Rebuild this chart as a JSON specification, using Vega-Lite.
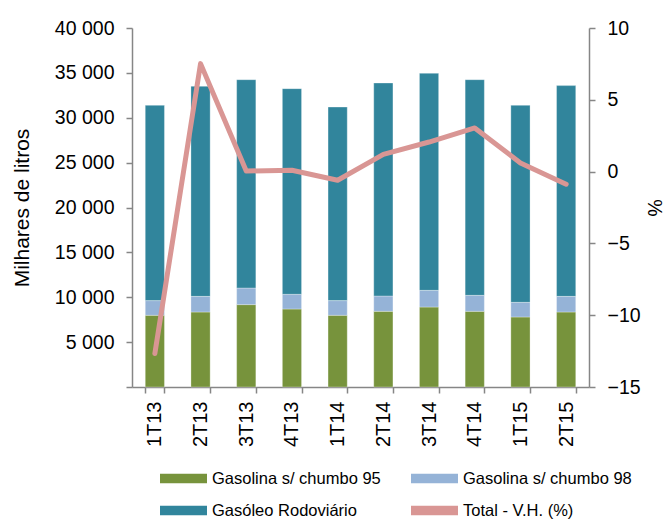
{
  "$schema": "https://vega.github.io/schema/vega-lite/v6.json",
  "width": 457,
  "height": 359,
  "autosize": {"type": "none"},
  "padding": {"left": 132, "top": 28, "right": 76, "bottom": 132},
  "background": "white",
  "config": {
    "view": {"stroke": null},
    "font": "Liberation Sans",
    "axis": {
      "domainColor": "#868686",
      "tickColor": "#868686",
      "labelColor": "#000000",
      "titleColor": "#000000",
      "labelFont": "Liberation Sans",
      "titleFont": "Liberation Sans",
      "titleFontWeight": "normal",
      "grid": false,
      "tickSize": 6,
      "domainWidth": 1.5,
      "tickWidth": 1.5
    }
  },
  "datasets": {
    "bars": [
      {"q": "1T13", "tipo": "Gasolina s/ chumbo 95", "ord": 1, "valor": 7990},
      {"q": "1T13", "tipo": "Gasolina s/ chumbo 98", "ord": 2, "valor": 1635},
      {"q": "1T13", "tipo": "Gasóleo  Rodoviário", "ord": 3, "valor": 21755},
      {"q": "2T13", "tipo": "Gasolina s/ chumbo 95", "ord": 1, "valor": 8355},
      {"q": "2T13", "tipo": "Gasolina s/ chumbo 98", "ord": 2, "valor": 1745},
      {"q": "2T13", "tipo": "Gasóleo  Rodoviário", "ord": 3, "valor": 23400},
      {"q": "3T13", "tipo": "Gasolina s/ chumbo 95", "ord": 1, "valor": 9180},
      {"q": "3T13", "tipo": "Gasolina s/ chumbo 98", "ord": 2, "valor": 1850},
      {"q": "3T13", "tipo": "Gasóleo  Rodoviário", "ord": 3, "valor": 23210},
      {"q": "4T13", "tipo": "Gasolina s/ chumbo 95", "ord": 1, "valor": 8690},
      {"q": "4T13", "tipo": "Gasolina s/ chumbo 98", "ord": 2, "valor": 1640},
      {"q": "4T13", "tipo": "Gasóleo  Rodoviário", "ord": 3, "valor": 22910},
      {"q": "1T14", "tipo": "Gasolina s/ chumbo 95", "ord": 1, "valor": 7990},
      {"q": "1T14", "tipo": "Gasolina s/ chumbo 98", "ord": 2, "valor": 1635},
      {"q": "1T14", "tipo": "Gasóleo  Rodoviário", "ord": 3, "valor": 21565},
      {"q": "2T14", "tipo": "Gasolina s/ chumbo 95", "ord": 1, "valor": 8430},
      {"q": "2T14", "tipo": "Gasolina s/ chumbo 98", "ord": 2, "valor": 1710},
      {"q": "2T14", "tipo": "Gasóleo  Rodoviário", "ord": 3, "valor": 23730},
      {"q": "3T14", "tipo": "Gasolina s/ chumbo 95", "ord": 1, "valor": 8910},
      {"q": "3T14", "tipo": "Gasolina s/ chumbo 98", "ord": 2, "valor": 1860},
      {"q": "3T14", "tipo": "Gasóleo  Rodoviário", "ord": 3, "valor": 24180},
      {"q": "4T14", "tipo": "Gasolina s/ chumbo 95", "ord": 1, "valor": 8430},
      {"q": "4T14", "tipo": "Gasolina s/ chumbo 98", "ord": 2, "valor": 1785},
      {"q": "4T14", "tipo": "Gasóleo  Rodoviário", "ord": 3, "valor": 24025},
      {"q": "1T15", "tipo": "Gasolina s/ chumbo 95", "ord": 1, "valor": 7800},
      {"q": "1T15", "tipo": "Gasolina s/ chumbo 98", "ord": 2, "valor": 1635},
      {"q": "1T15", "tipo": "Gasóleo  Rodoviário", "ord": 3, "valor": 21945},
      {"q": "2T15", "tipo": "Gasolina s/ chumbo 95", "ord": 1, "valor": 8355},
      {"q": "2T15", "tipo": "Gasolina s/ chumbo 98", "ord": 2, "valor": 1745},
      {"q": "2T15", "tipo": "Gasóleo  Rodoviário", "ord": 3, "valor": 23480}
    ],
    "linha": [
      {"q": "1T13", "vh": -12.67},
      {"q": "2T13", "vh": 7.52},
      {"q": "3T13", "vh": 0.04},
      {"q": "4T13", "vh": 0.09},
      {"q": "1T14", "vh": -0.6},
      {"q": "2T14", "vh": 1.2},
      {"q": "3T14", "vh": 2.06},
      {"q": "4T14", "vh": 3.04},
      {"q": "1T15", "vh": 0.6},
      {"q": "2T15", "vh": -0.88}
    ]
  },
  "layer": [
    {
      "data": {"name": "bars"},
      "mark": {"type": "bar", "stroke": "#ffffff", "strokeWidth": 0.6, "strokeOpacity": 0.5},
      "encoding": {
        "x": {
          "field": "q", "type": "nominal", "sort": null,
          "scale": {"paddingInner": 0.58, "paddingOuter": 0.29},
          "axis": {"title": null, "labelAngle": -90, "tickBand": "extent", "labelFontSize": 20, "labelPadding": 8, "labelAlign": "right", "labelBaseline": "middle"}
        },
        "y": {
          "field": "valor", "type": "quantitative", "stack": "zero",
          "scale": {"domain": [0, 40000], "nice": false},
          "axis": {
            "title": "Milhares de litros", "titleFontSize": 21, "titlePadding": 22,
            "values": [0, 5000, 10000, 15000, 20000, 25000, 30000, 35000, 40000],
            "labelExpr": "datum.value == 0 ? '' : replace(format(datum.value, ','), ',', ' ')",
            "labelFontSize": 19.5, "labelPadding": 12
          }
        },
        "color": {
          "field": "tipo", "type": "nominal",
          "scale": {
            "domain": ["Gasolina s/ chumbo 95", "Gasolina s/ chumbo 98", "Gasóleo  Rodoviário", "Total - V.H. (%)"],
            "range": ["#77933C", "#95B3D7", "#31859C", "#D99694"]
          },
          "legend": {
            "orient": "none", "legendX": 28, "legendY": 427, "columns": 2, "direction": "horizontal",
            "title": null, "symbolType": "M-1,-0.2H1V0.2H-1Z", "symbolSize": 2209,
            "symbolStrokeWidth": 0, "symbolOpacity": 1, "labelFontSize": 16.5, "labelOffset": 5,
            "columnPadding": 30, "rowPadding": 0, "labelLimit": 300, "labelColor": "#000000"
          }
        },
        "order": {"field": "ord", "type": "quantitative"}
      }
    },
    {
      "data": {"name": "linha"},
      "mark": {"type": "line", "strokeWidth": 5, "strokeCap": "round", "strokeJoin": "round"},
      "encoding": {
        "x": {"field": "q", "type": "nominal", "sort": null},
        "y": {
          "field": "vh", "type": "quantitative",
          "scale": {"domain": [-15, 10], "nice": false},
          "axis": {"orient": "right", "title": "%", "titleFontSize": 19.5, "titlePadding": 3, "values": [-15, -10, -5, 0, 5, 10], "labelFontSize": 19.5, "labelPadding": 12}
        },
        "color": {"datum": "Total - V.H. (%)"}
      }
    }
  ],
  "resolve": {"scale": {"y": "independent"}}
}
